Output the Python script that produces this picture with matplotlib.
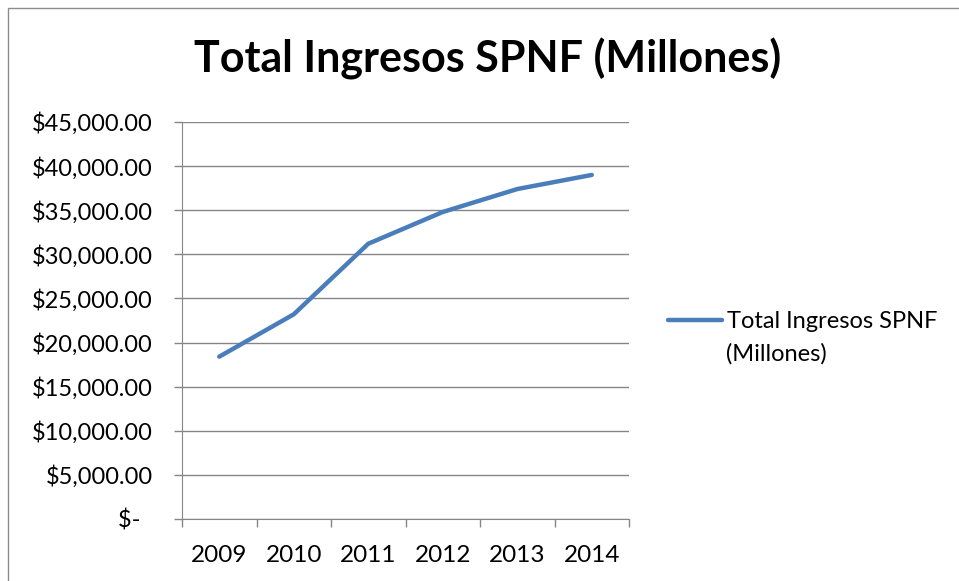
import matplotlib
matplotlib.use('Agg')
import matplotlib.pyplot as plt
from matplotlib.patches import Rectangle
from matplotlib.ticker import FixedLocator, FuncFormatter

# SPNF total revenue, millions
years = ['2009', '2010', '2011', '2012', '2013', '2014']
ingresos = [18400, 23200, 31200, 34800, 37400, 39000]
y_ticks = [0, 5000, 10000, 15000, 20000, 25000, 30000, 35000, 40000, 45000]
title = 'Total Ingresos SPNF (Millones)'
legend_lines = ['Total Ingresos SPNF', '(Millones)']

FONT = 'Lato'
GRID = '#868686'
BLUE = '#4A7EBB'


def accounting(v, pos=None):
    # accounting style: zero shows as a dash, padded like the decimals
    if v == 0:
        return '$-  '
    return f'${v:,.2f}'


plt.rcParams['font.family'] = FONT
fig = plt.figure(figsize=(9.59, 5.81), dpi=100)
W, H = 959, 581

# outer chart frame
fig.patches.append(Rectangle((8 / W, -0.1), 1.2, 1 - 8 / H + 0.1,
                             transform=fig.transFigure, fill=False,
                             edgecolor='#8c8c8c', linewidth=1.0))

ax = fig.add_axes([182 / W, 1 - 519 / H, (629 - 182) / W, (519 - 122) / H])

x = list(range(len(years)))
line, = ax.plot(x, ingresos, color=BLUE, linewidth=3.2,
                solid_capstyle='round', solid_joinstyle='round', zorder=3)

ax.set_xlim(-0.5, len(years) - 0.5)
ax.set_ylim(y_ticks[0], y_ticks[-1])

# category boundaries carry the tick marks, centres carry the labels
ax.xaxis.set_major_locator(FixedLocator([i - 0.5 for i in range(len(years) + 1)]))
ax.xaxis.set_major_formatter(FuncFormatter(lambda v, p: ''))
ax.xaxis.set_minor_locator(FixedLocator(x))
ax.set_xticklabels(years, minor=True)
ax.tick_params(axis='x', which='major', length=6, width=1, color=GRID)
ax.tick_params(axis='x', which='minor', length=0, pad=19, labelsize=17.5)

ax.yaxis.set_major_locator(FixedLocator(y_ticks))
ax.yaxis.set_major_formatter(FuncFormatter(accounting))
ax.tick_params(axis='y', length=6, width=1, color=GRID, pad=15, labelsize=17)

ax.grid(axis='y', color=GRID, linewidth=1.0)
for side in ['top', 'right']:
    ax.spines[side].set_visible(False)
ax.spines['left'].set_color(GRID)
ax.spines['bottom'].set_color(GRID)
ax.set_axisbelow(True)

fig.text(487.5 / W, 1 - 73 / H, title, ha='center', va='baseline',
         fontsize=31, fontweight='bold')

fig.legend([line], [legend_lines[0]], loc='center left',
           bbox_to_anchor=(668 / W, 1 - 322 / H), frameon=False,
           borderpad=0, borderaxespad=0, handlelength=2.3,
           handletextpad=0.2, fontsize=17)
fig.text(726 / W, 1 - 354 / H, legend_lines[1], ha='left', va='center',
         fontsize=17)

fig.savefig('out.png', dpi=100)
